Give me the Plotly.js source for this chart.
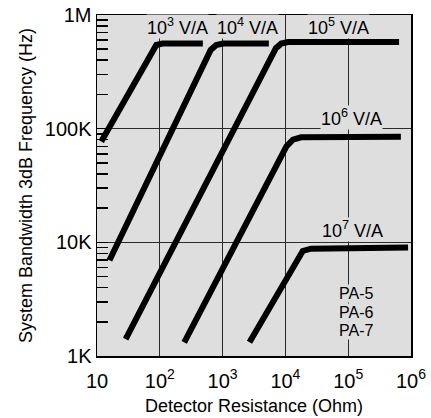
<!DOCTYPE html>
<html><head><meta charset="utf-8">
<script src="https://cdn.plot.ly/plotly-3.0.1.min.js"></script>
<style>html,body{margin:0;padding:0;background:#fff}#chart{width:431px;height:418px}</style>
</head><body><div id="chart"></div>
<script>
// Detector resistance (Ohm) and system bandwidth (Hz) for each transimpedance gain
const gainLabels = ['10<sup>3</sup> V/A', '10<sup>4</sup> V/A', '10<sup>5</sup> V/A', '10<sup>6</sup> V/A', '10<sup>7</sup> V/A'];
const res1 = [11.7, 73, 88, 111, 485];
const bw1  = [77000, 476000, 545000, 560000, 560000];
const res2 = [15.8, 646, 792, 1020, 5450];
const bw2  = [6950, 493000, 545000, 560000, 560000];
const res3 = [28.6, 7060, 8570, 11000, 646000];
const bw3  = [1410, 510000, 560000, 578000, 580000];
const res4 = [245, 10400, 13200, 17800, 690000];
const bw4  = [1320, 70000, 80000, 84000, 85000];
const res5 = [2680, 15800, 18900, 25500, 898000];
const bw5  = [1320, 7350, 8400, 8800, 9000];
const modelLabels = ['PA-5', 'PA-6', 'PA-7'];

const xTickVals = [10, 100, 1000, 10000, 100000, 1000000];
const xTickText = ['10', '10<sup>2</sup>', '10<sup>3</sup>', '10<sup>4</sup>', '10<sup>5</sup>', '10<sup>6</sup>'];
const yTickVals = [1000, 10000, 100000, 1000000];
const yTickText = ['1K', '10K', '100K', '1M'];

const bg = '#dedede';
const FONT = 'Liberation Sans, Arial, sans-serif';
const allRes = [res1, res2, res3, res4, res5];
const allBw = [bw1, bw2, bw3, bw4, bw5];
const traces = allRes.map((r, i) => ({
  x: r, y: allBw[i], type: 'scatter', mode: 'lines', name: gainLabels[i],
  line: {color: '#000', width: 6}, hoverinfo: 'skip'
}));

const minorVals = [];
[1000, 10000, 100000].forEach(d => { for (let k = 2; k <= 9; k++) minorVals.push(k * d); });

// label placement (log10 units): [x, y, yanchor]
const labelPos = [[2.274, 5.789, 'bottom'], [3.404, 5.789, 'bottom'], [4.838, 5.789, 'bottom'],
                  [5.045, 5.094, 'middle'], [5.068, 4.109, 'middle']];
const annotations = gainLabels.map((t, i) => ({
  text: t, x: labelPos[i][0], y: labelPos[i][1], xref: 'x', yref: 'y',
  showarrow: false, xanchor: 'center', yanchor: labelPos[i][2], bgcolor: bg, borderpad: 0,
  font: {family: FONT, size: 18, color: '#000'}
}));
const modelY = [3.549, 3.386, 3.223];
modelLabels.forEach((t, i) => annotations.push({
  text: t, x: 5.124, y: modelY[i], xref: 'x', yref: 'y', showarrow: false,
  xanchor: 'center', yanchor: 'middle', bgcolor: bg, borderpad: 0,
  font: {family: FONT, size: 16, color: '#000'}
}));

const layout = {
  width: 431, height: 418,
  margin: {l: 97, r: 20, t: 15, b: 62},
  paper_bgcolor: '#fff', plot_bgcolor: bg,
  showlegend: false,
  font: {family: FONT, color: '#000'},
  xaxis: {
    type: 'log', range: [1, 6], tickmode: 'array', tickvals: xTickVals, ticktext: xTickText,
    ticks: '', showgrid: true, gridcolor: '#2a2a2a', gridwidth: 1, zeroline: false,
    showline: true, linecolor: '#000', linewidth: 1.5, mirror: true,
    tickfont: {size: 20}, ticklabelstandoff: 6,
    title: {text: 'Detector Resistance (Ohm)', font: {size: 18}, standoff: 9}
  },
  yaxis: {
    type: 'log', range: [3, 6], tickmode: 'array', tickvals: yTickVals, ticktext: yTickText,
    ticks: 'inside', ticklen: 11, tickwidth: 1.5, tickcolor: '#000',
    minor: {tickmode: 'array', tickvals: minorVals, ticks: 'inside', ticklen: 11, tickwidth: 1.5, tickcolor: '#000', showgrid: false},
    showgrid: true, gridcolor: '#2a2a2a', gridwidth: 1, zeroline: false,
    showline: true, linecolor: '#000', linewidth: 1.5, mirror: true,
    tickfont: {size: 20},
    title: {text: 'System Bandwidth 3dB Frequency (Hz)', font: {size: 18}, standoff: 7}
  },
  annotations: annotations
};

Plotly.newPlot('chart', traces, layout, {displayModeBar: false, staticPlot: true});
</script>
</body></html>
